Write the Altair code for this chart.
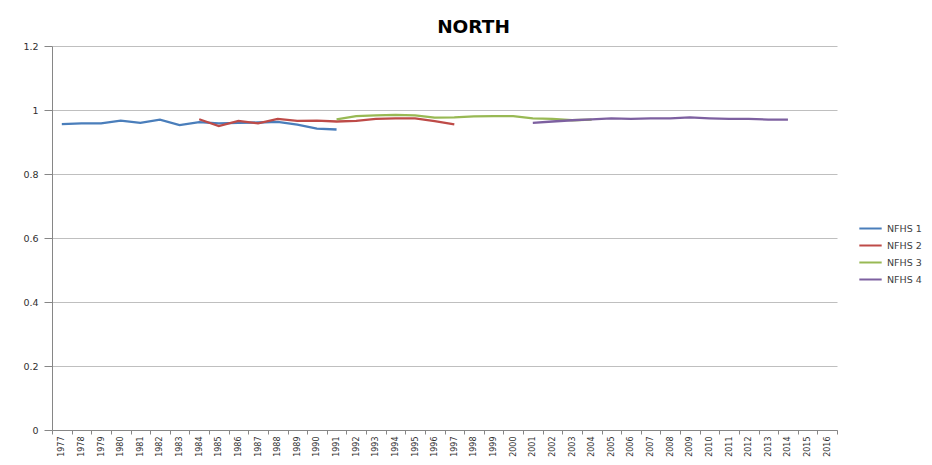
import altair as alt
import pandas as pd

years = list(range(1977, 2017))
series_names = ["NFHS 1", "NFHS 2", "NFHS 3", "NFHS 4"]

nfhs1_years = list(range(1977, 1992))
nfhs1_vals = [0.956, 0.958, 0.958, 0.967, 0.960, 0.970, 0.953, 0.962, 0.958, 0.960,
              0.961, 0.963, 0.954, 0.942, 0.939]

nfhs2_years = list(range(1984, 1998))
nfhs2_vals = [0.971, 0.950, 0.966, 0.958, 0.972, 0.966, 0.967, 0.964, 0.966, 0.972,
              0.974, 0.974, 0.965, 0.955]

nfhs3_years = list(range(1991, 2005))
nfhs3_vals = [0.971, 0.981, 0.983, 0.985, 0.983, 0.976, 0.977, 0.980, 0.981, 0.981,
              0.974, 0.972, 0.968, 0.970]

nfhs4_years = list(range(2001, 2015))
nfhs4_vals = [0.960, 0.964, 0.968, 0.971, 0.974, 0.972, 0.974, 0.974, 0.977, 0.974,
              0.972, 0.972, 0.970, 0.970]

colors = ["#4A7EBB", "#BE4B48", "#98B954", "#7D60A0"]
y_ticks = [0, 0.2, 0.4, 0.6, 0.8, 1.0, 1.2]

rows = []
for name, ys, vs in zip(series_names,
                        [nfhs1_years, nfhs2_years, nfhs3_years, nfhs4_years],
                        [nfhs1_vals, nfhs2_vals, nfhs3_vals, nfhs4_vals]):
    for y, v in zip(ys, vs):
        rows.append({"year": str(y), "value": v, "series": name})
df = pd.DataFrame(rows)

font = "DejaVu Sans"

chart = alt.Chart(df).mark_line(strokeWidth=2.3).encode(
    x=alt.X("year:O",
            sort=[str(y) for y in years],
            scale=alt.Scale(type="band", domain=[str(y) for y in years],
                            paddingInner=0, paddingOuter=0),
            bandPosition=0.5,
            axis=alt.Axis(title=None, labelAngle=-90, labelFontSize=8,
                          labelFont=font, labelColor="#303030",
                          tickBand="extent", tickSize=4, tickColor="#868686",
                          domainColor="#868686", labelPadding=2,
                          labelBaseline="middle", labelAlign="right")),
    y=alt.Y("value:Q",
            scale=alt.Scale(domain=[0, 1.2], nice=False),
            axis=alt.Axis(title=None, values=y_ticks, format="~g",
                          labelFontSize=9.5, labelFont=font, labelColor="#303030",
                          grid=True, gridColor="#BFBFBF", tickColor="#868686",
                          tickSize=8, domainColor="#868686", labelPadding=6)),
    color=alt.Color("series:N",
                    scale=alt.Scale(domain=series_names, range=colors),
                    legend=alt.Legend(title=None, orient="none", legendX=806,
                                      legendY=170, symbolType="stroke",
                                      symbolSize=500, symbolStrokeWidth=2,
                                      labelFontSize=9.5, labelFont=font,
                                      labelColor="#404040", labelOffset=4,
                                      rowPadding=0)),
).properties(
    width=785,
    height=384,
    title=alt.TitleParams("NORTH", fontSize=18.5, font=font, fontWeight="bold",
                          color="#000000", anchor="middle", dx=29, offset=5),
    padding={"left": 44, "top": 38, "right": 87, "bottom": 27},
    autosize=alt.AutoSizeParams(type="none"),
).configure_view(stroke=None)

chart.save("out.html", embed_options={"renderer": "svg", "actions": False})
